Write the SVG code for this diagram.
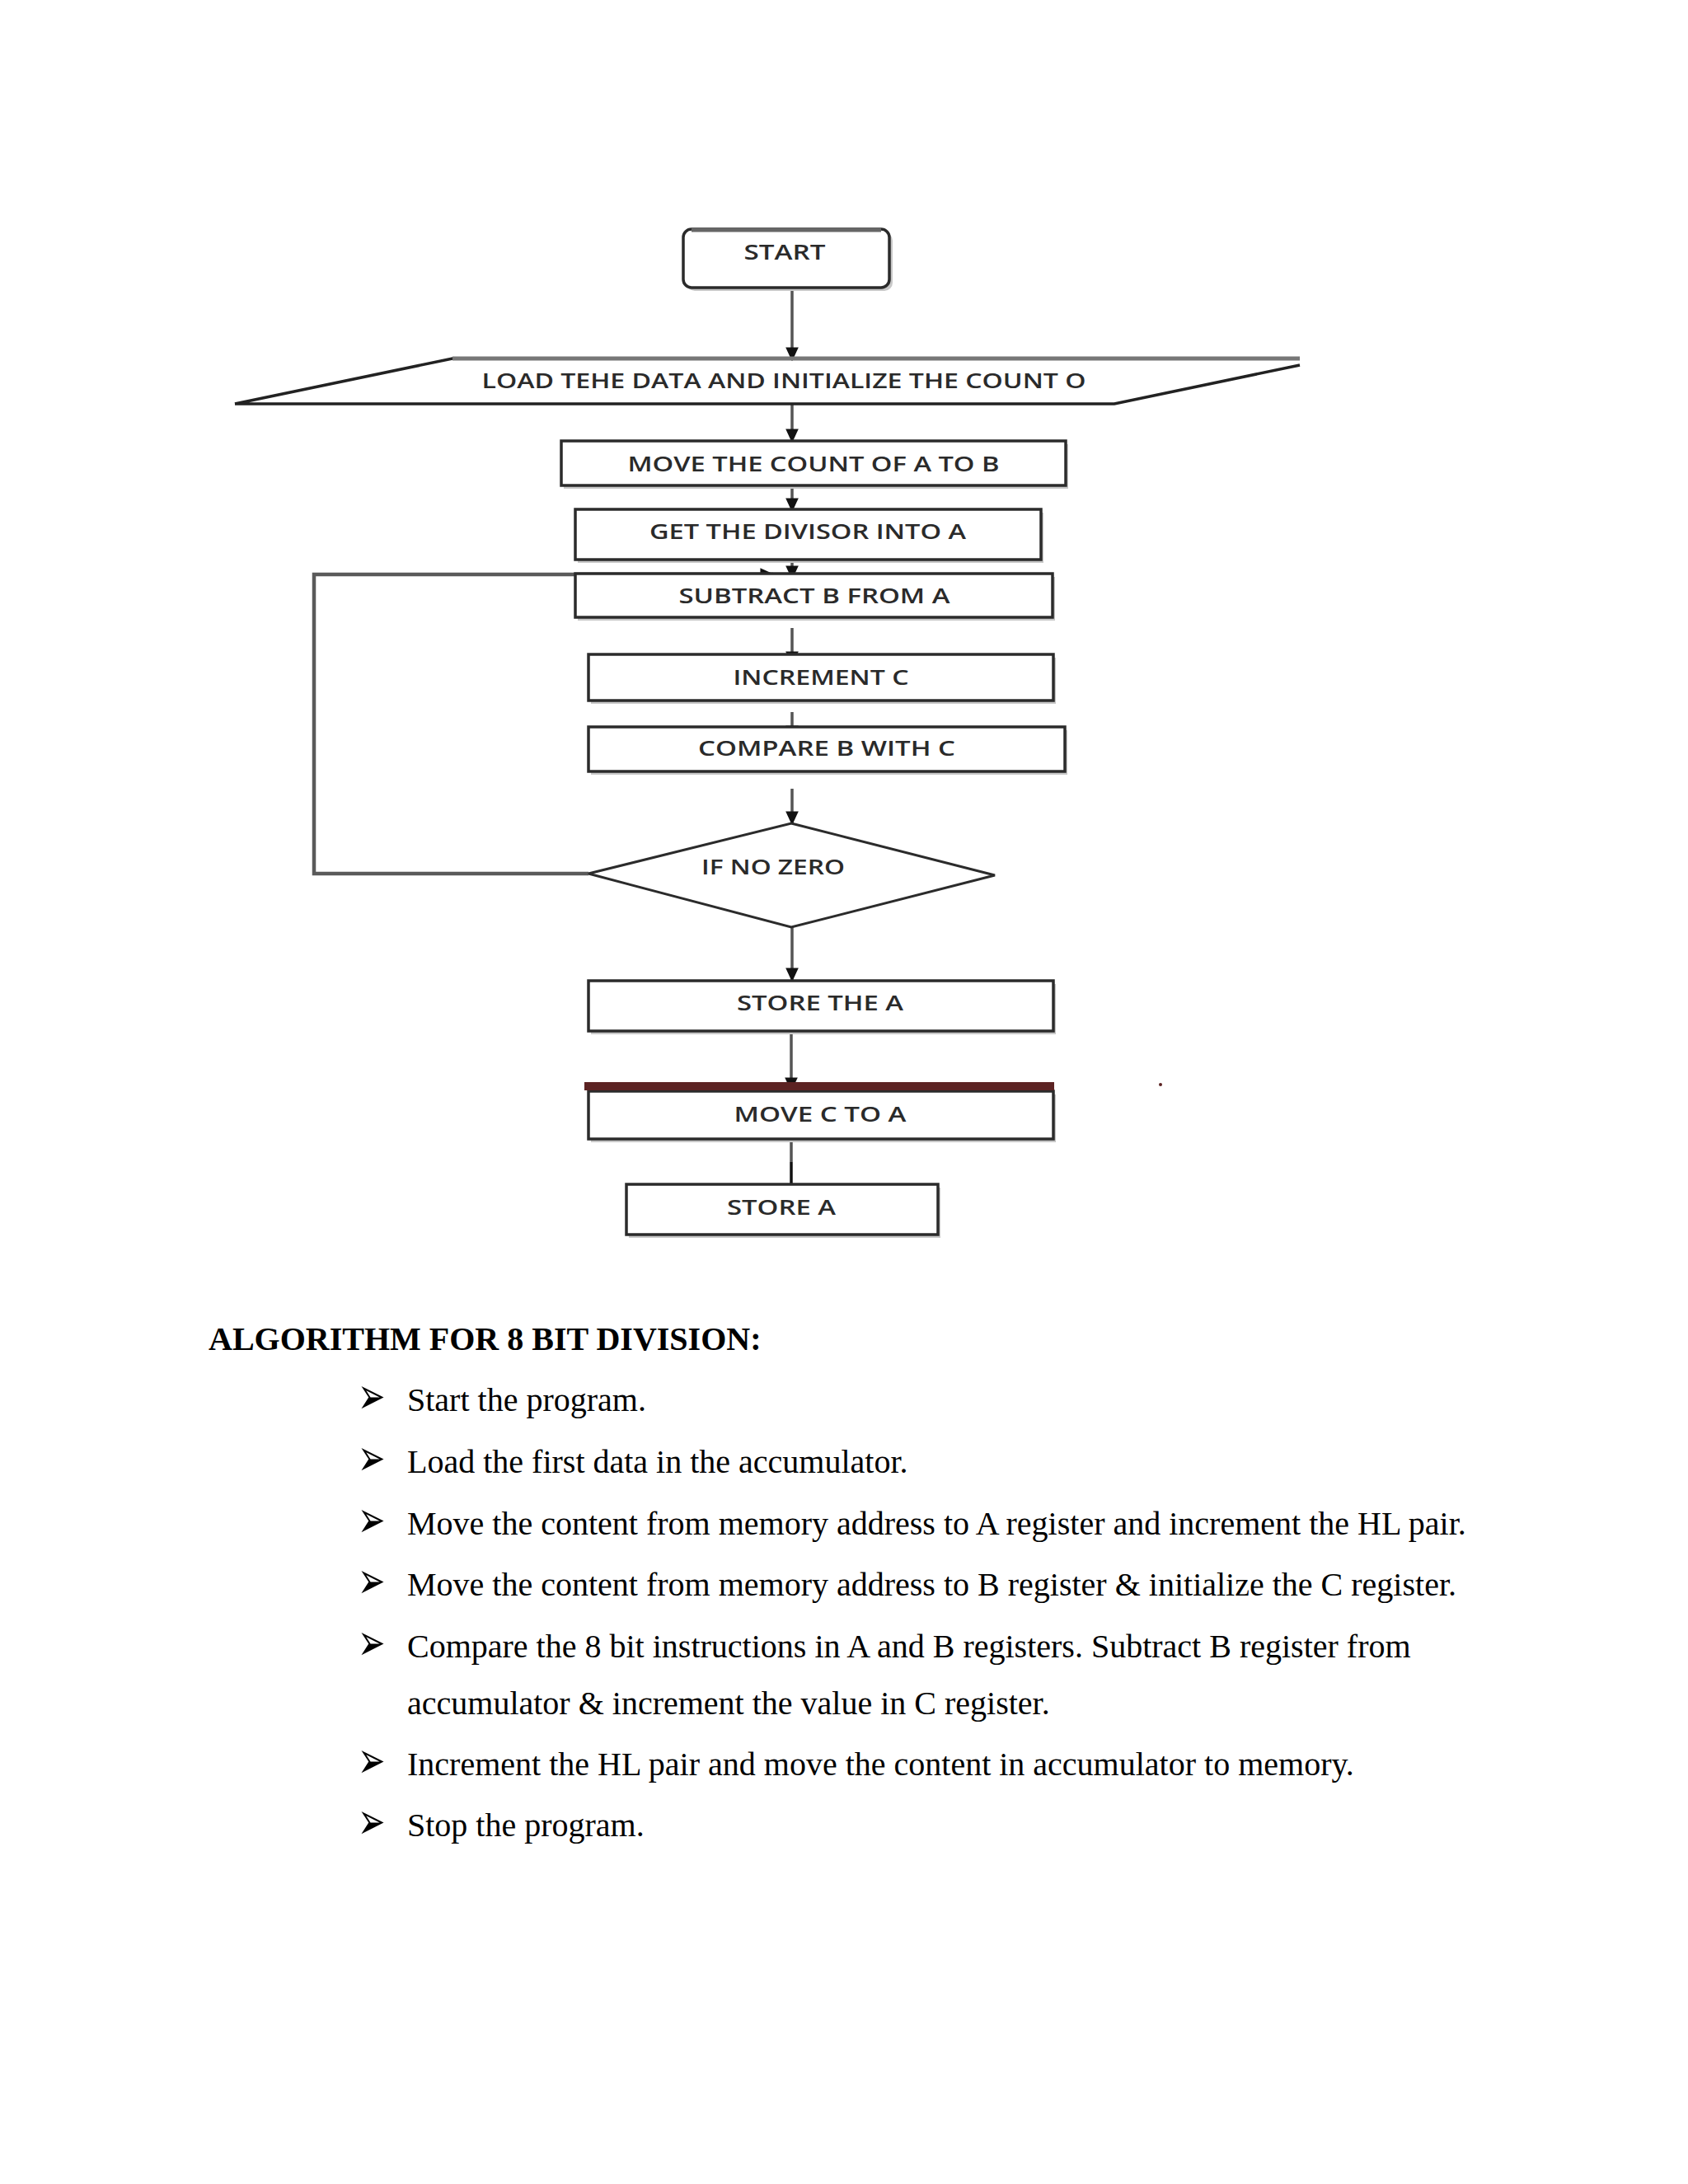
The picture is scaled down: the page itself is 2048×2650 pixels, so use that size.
<svg xmlns="http://www.w3.org/2000/svg" width="2048" height="2650" viewBox="0 0 2048 2650">
<defs>
<marker id="arr" markerUnits="userSpaceOnUse" markerWidth="17" markerHeight="17" viewBox="0 0 12 12" refX="11" refY="6" orient="auto">
<path d="M0,0.5 L12,6 L0,11.5 z" fill="#111"/>
</marker>
</defs>
<style>
.box{fill:#fff;stroke:#2b2b2b;stroke-width:3.5}
.shd{fill:#c8c8c8}
.lbl{font-family:"Open Sans","Liberation Sans",sans-serif;font-weight:600;font-size:25px;fill:#2a2a2a;text-anchor:middle}
.con{fill:none;stroke:#555;stroke-width:3.5}
.loop{fill:none;stroke:#5a5a5a;stroke-width:4.5}
.body{font-family:"Liberation Serif","Times New Roman",serif;font-size:40px;fill:#000}
.bul{font-family:"DejaVu Sans",sans-serif;font-size:40px;fill:#000}
</style>
<rect width="2048" height="2650" fill="#fff"/>

<g id="connectors">
<line class="con" x1="961" y1="349" x2="961" y2="437" marker-end="url(#arr)"/>
<line class="con" x1="961" y1="490" x2="961" y2="536" marker-end="url(#arr)"/>
<line class="con" x1="961" y1="589" x2="961" y2="620" marker-end="url(#arr)"/>
<line class="con" x1="961" y1="679" x2="961" y2="702" marker-end="url(#arr)"/>
<line class="con" x1="961" y1="762" x2="961" y2="806" marker-end="url(#arr)"/>
<line class="con" x1="961" y1="864" x2="961" y2="896" marker-end="url(#arr)"/>
<line class="con" x1="961" y1="957" x2="961" y2="1000" marker-end="url(#arr)"/>
<line class="con" x1="961" y1="1125" x2="961" y2="1190" marker-end="url(#arr)"/>
<line class="con" x1="960" y1="1251" x2="960" y2="1323" marker-end="url(#arr)"/>
<line class="con" x1="960" y1="1382" x2="960" y2="1410"/>
<line x1="960" y1="1410" x2="960" y2="1437" stroke="#111" stroke-width="3.5"/>
<polyline class="loop" points="714,1060 381,1060 381,697 938,697" marker-end="url(#arr)"/>
</g>

<g id="start">
<rect x="833" y="282" width="250" height="71" rx="10" class="shd"/>
<rect x="829" y="278" width="250" height="71" rx="10" class="box"/>
<line x1="839" y1="279" x2="1069" y2="279" stroke="#666" stroke-width="5"/>
<text class="lbl" x="952" y="315" textLength="99" lengthAdjust="spacingAndGlyphs">START</text>
</g>

<g id="load">
<path d="M285,490 L549,435 L1577,435 M285,490 L1352,490 L1577,443" fill="none" stroke="#222" stroke-width="3.5"/>
<line x1="549" y1="435" x2="1577" y2="435" stroke="#777" stroke-width="5"/>
<text class="lbl" x="951" y="471" textLength="733" lengthAdjust="spacingAndGlyphs">LOAD TEHE DATA AND INITIALIZE THE COUNT O</text>
</g>

<g id="move-count">
<rect x="684" y="539" width="612" height="54" class="shd"/>
<rect x="681" y="535" width="612" height="54" class="box"/>
<text class="lbl" x="987" y="572" textLength="451" lengthAdjust="spacingAndGlyphs">MOVE THE COUNT OF A TO B</text>
</g>

<g id="get-divisor">
<rect x="701" y="622" width="565" height="61" class="shd"/>
<rect x="698" y="618" width="565" height="61" class="box"/>
<text class="lbl" x="980" y="654" textLength="384" lengthAdjust="spacingAndGlyphs">GET THE DIVISOR INTO A</text>
</g>

<g id="subtract">
<rect x="701" y="700" width="579" height="53" class="shd"/>
<rect x="698" y="696" width="579" height="53" class="box"/>
<text class="lbl" x="988" y="732" textLength="329" lengthAdjust="spacingAndGlyphs">SUBTRACT B FROM A</text>
</g>

<g id="increment">
<rect x="717" y="798" width="564" height="56" class="shd"/>
<rect x="714" y="794" width="564" height="56" class="box"/>
<text class="lbl" x="996" y="831" textLength="213" lengthAdjust="spacingAndGlyphs">INCREMENT C</text>
</g>

<g id="compare">
<rect x="717" y="886" width="578" height="54" class="shd"/>
<rect x="714" y="882" width="578" height="54" class="box"/>
<text class="lbl" x="1003" y="917" textLength="312" lengthAdjust="spacingAndGlyphs">COMPARE B WITH C</text>
</g>

<g id="decision">
<polygon points="960,999 1207,1062 960,1125 714,1060" fill="#fff" stroke="#2b2b2b" stroke-width="3"/>
<text class="lbl" x="938" y="1061" textLength="174" lengthAdjust="spacingAndGlyphs">IF NO ZERO</text>
</g>

<g id="store-the-a">
<rect x="717" y="1194" width="564" height="61" class="shd"/>
<rect x="714" y="1190" width="564" height="61" class="box"/>
<text class="lbl" x="995" y="1226" textLength="202" lengthAdjust="spacingAndGlyphs">STORE THE A</text>
</g>

<g id="move-c">
<rect x="717" y="1328" width="564" height="58" class="shd"/>
<rect x="714" y="1324" width="564" height="58" class="box"/>
<line x1="709" y1="1318" x2="1279" y2="1318" stroke="#5c2323" stroke-width="10"/>
<text class="lbl" x="995" y="1361" textLength="209" lengthAdjust="spacingAndGlyphs">MOVE C TO A</text>
</g>

<g id="store-a">
<rect x="763" y="1441" width="378" height="61" class="shd"/>
<rect x="760" y="1437" width="378" height="61" class="box"/>
<text class="lbl" x="948" y="1474" textLength="132" lengthAdjust="spacingAndGlyphs">STORE A</text>
</g>

<circle cx="1408" cy="1316" r="2" fill="#5c2323"/>

<g id="algorithm">
<text x="253" y="1638" font-family="Liberation Serif, 'Times New Roman', serif" font-weight="bold" font-size="40">ALGORITHM FOR 8 BIT DIVISION:</text>
<text class="bul" transform="translate(434,1712) scale(1,1.55)" y="2">➢</text>
<text class="body" x="494" y="1712">Start the program.</text>
<text class="bul" transform="translate(434,1787) scale(1,1.55)" y="2">➢</text>
<text class="body" x="494" y="1787">Load the first data in the accumulator.</text>
<text class="bul" transform="translate(434,1862) scale(1,1.55)" y="2">➢</text>
<text class="body" x="494" y="1862">Move the content from memory address to A register and increment the HL pair.</text>
<text class="bul" transform="translate(434,1936) scale(1,1.55)" y="2">➢</text>
<text class="body" x="494" y="1936">Move the content from memory address to B register &amp; initialize the C register.</text>
<text class="bul" transform="translate(434,2011) scale(1,1.55)" y="2">➢</text>
<text class="body" x="494" y="2011">Compare the 8 bit instructions in A and B registers. Subtract B register from</text>
<text class="body" x="494" y="2080">accumulator &amp; increment the value in C register.</text>
<text class="bul" transform="translate(434,2154) scale(1,1.55)" y="2">➢</text>
<text class="body" x="494" y="2154">Increment the HL pair and move the content in accumulator to memory.</text>
<text class="bul" transform="translate(434,2228) scale(1,1.55)" y="2">➢</text>
<text class="body" x="494" y="2228">Stop the program.</text>
</g>
</svg>
